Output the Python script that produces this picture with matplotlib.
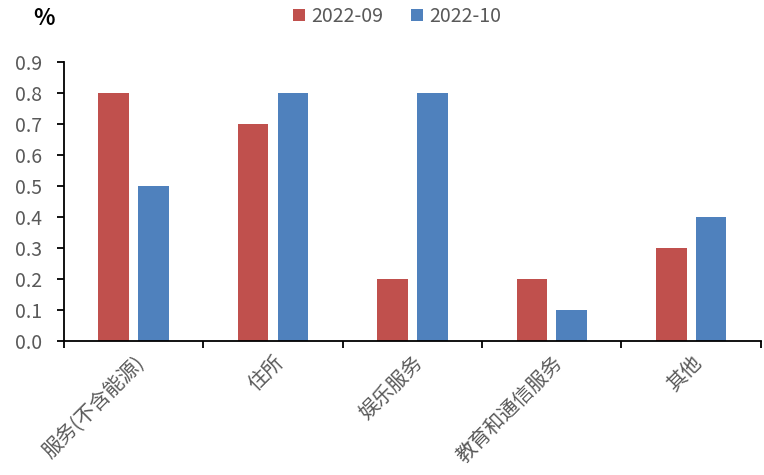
import matplotlib.pyplot as plt
import numpy as np

plt.rcParams['font.family'] = ['Noto Sans CJK SC', 'DejaVu Sans']

categories = ['服务(不含能源)', '住所', '娱乐服务', '教育和通信服务', '其他']
sep_values = [0.8, 0.7, 0.2, 0.2, 0.3]
oct_values = [0.5, 0.8, 0.8, 0.1, 0.4]
series_labels = ['2022-09', '2022-10']

red = '#C0504D'
blue = '#4F81BD'
grey = '#595959'

fig = plt.figure(figsize=(7.64, 4.75), dpi=100)
ax = fig.add_axes([0.0838, 0.282, 0.912, 0.5875])

x = np.arange(len(categories))
w = 0.22
off = 0.143
ax.bar(x - off, sep_values, w, color=red, label=series_labels[0])
ax.bar(x + off, oct_values, w, color=blue, label=series_labels[1])

ax.set_xlim(-0.5, len(categories) - 0.5)
ax.set_ylim(0, 0.9)
ax.set_yticks(np.arange(0, 0.91, 0.1))
ax.set_yticklabels(['%.1f' % v for v in np.arange(0, 0.91, 0.1)],
                   fontsize=14, color=grey)

# category labels centred under groups, tick marks between groups
ax.set_xticks(np.arange(-0.5, len(categories), 1.0))
ax.set_xticklabels([])
ax.set_xticks(x, minor=True)
ax.set_xticklabels(categories, minor=True, rotation=45, ha='right', va='top',
                   rotation_mode='anchor', fontsize=14.5, color=grey)
ax.tick_params(axis='x', which='minor', length=0, pad=8)
ax.tick_params(axis='x', which='major', length=5, width=1.3, direction='out')
ax.tick_params(axis='y', length=5, width=1.3, direction='out', pad=11)

for s in ['top', 'right']:
    ax.spines[s].set_visible(False)
for s in ['left', 'bottom']:
    ax.spines[s].set_linewidth(1.3)
    ax.spines[s].set_color('black')

fig.text(0.043, 0.962, '%', fontsize=16, fontweight='bold', ha='left', va='center')

leg = fig.legend(loc='center', bbox_to_anchor=(0.52, 0.965), ncol=2, frameon=False,
                 fontsize=14, handlelength=0.6, handleheight=0.6,
                 handletextpad=0.35, columnspacing=1.4)
for t in leg.get_texts():
    t.set_color(grey)

fig.savefig('out.png', dpi=100)
